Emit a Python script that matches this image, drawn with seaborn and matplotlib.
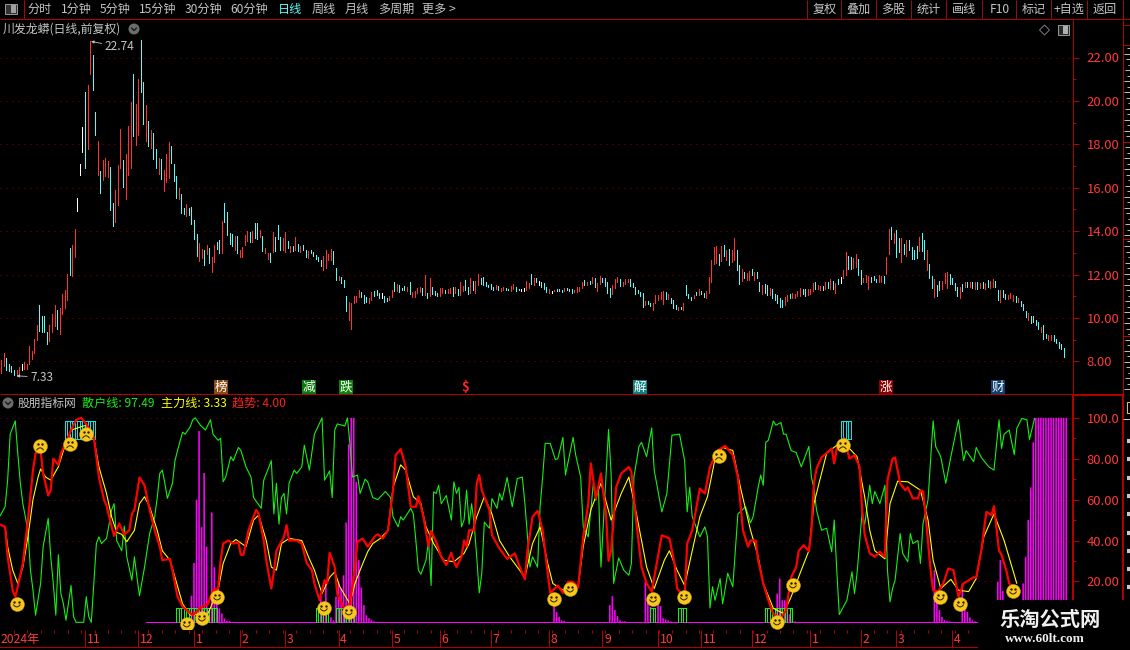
import numpy as np
import pandas as pd
import matplotlib
matplotlib.use('Agg')
import matplotlib.pyplot as plt
from matplotlib.patches import Rectangle, Circle, RegularPolygon
import seaborn as sns

# daily bars, low -> high, one per trading day
bar_high = [
    8.06,8.38,8.15,7.87,7.78,7.60,7.60,7.73,7.87,7.96,7.87,8.70,8.47,9.03,9.67,10.59,10.08,10.08,9.35,9.67,
    10.18,10.59,10.36,10.45,11.10,11.28,12.02,13.22,13.36,14.09,15.53,17.10,18.80,20.41,20.73,22.74,22.12,19.49,18.15,16.77,
    17.28,17.37,17.23,16.95,15.30,15.89,17.05,18.70,17.28,17.55,18.84,19.95,21.24,19.86,21.01,22.81,20.87,19.81,19.07,18.66,
    18.52,17.78,17.37,17.32,16.82,17.55,18.11,17.92,17.09,16.54,15.99,15.71,15.07,15.25,15.07,15.11,14.51,13.86,13.45,13.17,
    13.13,13.36,13.22,12.80,13.36,13.50,13.59,14.46,15.29,14.88,13.91,13.86,13.77,13.77,13.13,13.26,13.82,14.00,13.96,14.00,
    14.37,14.37,14.05,13.77,13.22,12.99,12.99,13.96,13.72,14.28,13.72,13.68,13.96,13.54,13.31,13.31,13.72,13.40,13.31,13.36,
    13.13,13.08,13.13,13.03,12.90,12.80,12.67,12.85,13.13,12.94,13.17,13.08,12.30,11.93,11.88,11.74,11.01,10.73,10.68,11.01,
    11.01,11.28,11.19,11.05,10.96,10.91,11.19,11.24,11.28,11.14,
    11.15,11.01,10.92,11.01,11.28,11.65,11.56,11.51,11.38,11.47,11.42,11.65,11.19,11.24,11.38,11.42,11.38,11.97,11.15,11.84,
    11.42,11.24,11.15,11.38,11.38,11.28,11.33,11.38,11.42,11.42,11.33,11.65,11.47,11.74,11.42,11.84,11.70,11.70,12.02,11.84,
    11.88,11.65,11.51,11.56,11.42,11.51,11.47,11.38,11.42,11.38,11.33,11.47,11.56,11.42,11.33,11.33,11.38,11.70,11.61,12.02,
    11.84,11.84,11.70,11.65,11.61,11.42,11.33,11.24,11.28,11.33,11.33,11.28,11.38,11.38,11.33,11.33,11.28,11.42,11.42,11.65,
    11.74,11.65,11.70,11.88,11.84,11.61,11.93,11.84,11.84,11.65,11.38,11.51,11.79,11.88,11.79,11.65,11.79,11.79,11.79,11.61,
    11.42,11.28,11.19,11.15,10.78,10.78,10.68,10.68,11.05,11.05,11.19,11.24,11.19,11.10,10.92,10.82,10.59,10.50,10.50,10.68,
    11.51,11.10,10.96,11.05,11.19,11.33,11.24,11.15,11.24,11.88,12.67,13.27,13.31,12.94,13.31,13.36,13.13,13.17,13.13,13.68,
    13.13,12.44,12.25,12.11,12.07,12.16,
    12.25,12.11,12.11,11.65,11.51,11.56,11.51,11.38,11.33,11.10,11.05,10.92,10.82,10.96,11.05,11.10,11.15,11.10,11.24,11.38,
    11.33,11.33,11.33,11.33,11.61,11.65,11.51,11.47,11.47,11.65,11.65,11.79,11.70,11.61,11.79,11.88,12.20,13.03,12.85,12.80,
    12.76,12.94,12.71,12.20,11.84,11.97,11.93,11.88,11.93,11.79,11.97,11.93,11.93,12.80,14.09,14.19,13.91,14.05,13.68,13.68,
    13.40,13.59,13.59,13.27,13.13,13.31,13.73,13.91,13.59,13.13,12.48,11.93,11.79,11.51,11.70,11.70,12.07,12.11,12.02,11.84,
    11.61,11.42,11.42,11.56,11.65,11.65,11.65,11.65,11.65,11.65,11.61,11.65,11.61,11.74,11.70,11.79,11.70,11.28,11.28,11.28,
    11.10,11.05,11.15,11.05,11.01,10.92,10.78,10.64,10.32,10.22,10.09,10.09,9.90,9.81,9.58,9.67,9.26,9.21,9.21,9.21,
    9.03,8.89,8.80,8.61]
bar_low = [
    7.46,7.78,7.60,7.55,7.50,7.37,7.33,7.41,7.60,7.64,7.64,7.87,8.10,8.38,8.98,9.39,9.35,9.35,8.79,8.93,
    9.35,9.62,9.49,9.26,10.18,10.45,10.82,11.97,11.93,12.80,14.93,16.58,17.65,16.91,17.78,21.24,20.50,18.43,16.58,15.76,
    16.36,16.54,16.49,14.97,14.23,14.42,15.20,16.91,16.03,15.48,16.59,16.91,18.38,17.97,18.43,20.41,18.94,18.15,17.92,17.83,
    17.32,16.91,16.63,16.40,15.85,16.26,16.45,17.14,16.31,15.53,15.48,14.83,14.79,14.70,14.74,14.32,13.63,12.85,12.62,12.76,
    12.43,12.94,12.53,12.11,12.57,13.17,12.99,12.99,14.42,13.82,13.40,13.31,13.13,12.99,12.80,12.80,13.36,13.54,13.50,13.50,
    13.68,13.63,13.72,13.08,12.99,12.71,12.57,13.03,13.08,13.63,13.13,13.13,13.03,13.22,13.03,13.08,13.13,13.08,13.03,13.13,
    12.80,12.76,12.99,12.85,12.71,12.62,12.39,12.20,12.30,12.67,12.67,12.48,11.74,11.74,11.61,11.42,10.32,9.90,9.49,10.68,
    10.73,10.96,10.96,10.68,10.73,10.68,10.82,11.01,11.05,10.91,
    10.92,10.73,10.78,10.82,10.96,11.24,11.24,11.19,11.28,11.28,11.24,11.10,10.96,10.96,11.15,11.19,11.05,11.05,10.92,11.01,
    11.10,11.05,11.01,11.01,11.15,11.15,11.15,11.15,11.01,11.15,11.05,11.05,11.24,11.28,11.10,11.15,11.28,11.15,11.51,11.56,
    11.51,11.47,11.42,11.33,11.28,11.33,11.28,11.24,11.28,11.28,11.28,11.24,11.33,11.24,11.28,11.24,11.24,11.28,11.38,11.56,
    11.51,11.65,11.51,11.42,11.33,11.19,11.15,11.15,11.24,11.24,11.24,11.19,11.24,11.28,11.24,11.15,11.19,11.19,11.24,11.38,
    11.51,11.51,11.56,11.61,11.42,11.24,11.56,11.65,11.47,11.15,10.96,11.10,11.38,11.65,11.47,11.47,11.56,11.65,11.47,11.42,
    11.10,11.15,11.01,10.50,10.59,10.64,10.55,10.36,10.68,10.82,10.87,10.64,10.87,10.87,10.68,10.45,10.41,10.36,10.41,10.36,
    11.05,10.92,10.82,10.92,11.05,11.05,11.10,10.96,10.92,11.15,11.65,12.48,12.53,12.44,12.62,12.85,12.67,12.44,12.57,12.67,
    12.20,11.56,11.70,11.84,11.74,11.74,
    11.97,11.74,11.84,11.24,11.10,11.15,11.05,11.05,10.92,10.82,10.68,10.50,10.50,10.59,10.78,10.92,10.92,10.92,11.01,11.01,
    11.10,11.01,11.05,11.10,11.24,11.33,11.33,11.28,11.28,11.33,11.38,11.33,11.33,11.15,11.56,11.61,11.84,11.97,12.25,12.25,
    12.30,12.34,11.97,11.56,11.65,11.65,11.33,11.65,11.74,11.65,11.65,11.65,11.61,12.02,12.94,13.63,13.45,12.80,13.03,12.57,
    12.94,12.85,13.13,12.71,12.71,12.76,13.08,13.08,12.71,12.20,11.84,11.38,10.96,11.01,11.28,11.33,11.61,11.38,11.56,11.56,
    11.28,11.01,10.92,11.24,11.42,11.42,11.42,11.38,11.33,11.33,11.38,11.38,11.33,11.42,11.38,11.42,11.42,10.82,10.73,10.96,
    10.87,10.87,10.92,10.78,10.73,10.73,10.55,10.36,10.04,9.90,9.76,9.81,9.67,9.49,9.35,9.03,9.07,8.98,8.98,8.93,
    8.84,8.61,8.57,8.20]
# r up, c down, w flat
bar_dir = ''.join([
    'rrccccrrwr','rrrrrccccr','rrcrrrrcrr','wwwcrrccrc','rrrccrrrcr','rrcrrccrcr','ccrcrrrccc','rccrccccrr',
    'crcrrccrcc','ccrcrrrrcr','ccrcrrcrcc','crrcrcrcrc','crcccccrrr','rccrcccrrr','rrcccrrccc',
    'wccrrcrccc','rcrrrrcrcr','cccrrcrrcr','crrccrcrrc','cccccrcrrc','crrccwwrrc','rcwcccrwrc','ccrcccrrrr',
    'crcrcrrccc','crrrcrrrcc','ccccrccrrr','rrcrcccrcr','cccrcrccrr','rrrcrcrcrr','ccrcrr',
    'crccrccrcc','cccrrcrrrr','ccrrrcrrcr','crcrcwrrcc','rrccrrrccc','rrcrrcrccr','crccccrccr','ccrccrrrcc',
    'ccrcrcrcrc','rcrcrrccrc','crrrcrcccr','ccccrccrrc','cccc'])

price_ticks = [8, 10, 12, 14, 16, 18, 20, 22]
osc_ticks = [20, 40, 60, 80, 100]
osc_labels = ['20.00', '40.00', '60.00', '80.00', '100.0']

# month starts as bar numbers
month_bars = [-0.8, 33, 54, 76, 94, 112, 133, 154, 173, 193, 216, 237, 259, 276, 296, 319, 339, 353, 375]
month_names = ['2024年', '11', '12', '1', '2', '3', '4', '5', '6', '7', '8', '9', '10', '11', '12', '1', '2', '3', '4']

# (bar, value)
retail_line = [
    (0,52),(2,56.5),(3,69.5),(4,92),(6,98.5),(7,82.6),(8,68),(9,58),(11,45),(12,25.5),(13,15.7),(14,3.5),(16,19),(17,37),
    (19,50.8),(20,32),(21,19),(22,3.5),(23,33),(24,14),(25,9),(26,1),(28,18),(29,2.7),(30,0),(33,0),(34,12.5),(35,2.7),
    (36,0),(37,19),(38,38.5),(39,41.8),(40,38.5),(42,41),(44,55),(45,58),(46,40),(48,35),(49,47),(50,32),(52,20.6),(53,32),
    (54,22),(55,13),(57,27),(59,43.4),(61,51.6),(62,61),(63,72.8),(64,74.4),(65,68),(66,60.6),(68,68),(69,79),(70,84),(72,93),
    (73,92),(75,95.6),(76,99),(77,100),(79,96.4),(81,94),(83,99),(84,92),(86,89),(87,90),(88,68.7),(89,71),(91,81),(92,79),
    (94,85.5),(95,84),(97,76),(99,71),(100,61),(103,55.7),(104,69.5),(107,79),(108,53),(109,68),(110,48),(111,61),(112,63),
    (113,53),(114,68),(116,74.4),(117,72.8),(119,76),(120,86.6),(122,74.4),(124,92),(127,100),(128,69.5),(130,74),(131,61),
    (132,94),(133,97),(136,96),(137,100),(138,87.5),(139,71),(141,72),(142,63),(144,70),(145,68.7),(147,61),(149,60),
    (152,64),(154,61),(155,51.6),(157,46.7),(158,51.6),(159,50),(162,55.7),(163,53),(164,40),(165,25.5),(166,23.5),(168,30.4),
    (169,40),(170,18),(171,63.8),(172,63),(173,67),(174,58),(176,62),(178,50),(179,68.7),(180,63),(181,66),(182,46.7),(183,50),
    (184,64.6),(185,48),(186,58),(187,48),(188,32),(189,14.4),(190,24),(191,49),(193,46),(194,60.5),(196,55.7),(197,63),
    (198,59.7),(200,70.8),(202,56.5),(204,70.3),(206,71),(207,58),(209,27),(210,32),(212,27),(213,56.5),(214,71),(215,87.5),
    (217,87.5),(219,79.6),(220,80),(222,90.4),(223,72),(226,90.4),(227,82),(229,71),(230,46.7),(232,41.8),(234,68),(235,59.7),
    (236,66),(237,27),(240,94.3),(241,72.8),(242,19),(244,31.5),(246,25.5),(248,23),(249,28.8),(250,71),(252,86),(253,88),
    (255,81),(257,95),(258,74.4),(261,54),(263,63),(265,91.5),(268,92),(270,79),(271,54),(272,66),(273,51.6),(276,41.8),
    (278,46.7),(279,41.8),(280,7),(281,17.4),(282,10.8),(284,21.4),(285,9),(287,24),(289,17.4),(291,53),(294,56.5),
    (296,48.7),(297,51.6),(299,66),(300,72),(301,67),(302,88),(303,89),(305,98.5),(306,96.4),(308,97.7),(309,92),(310,92),
    (312,84),(314,83),(316,76),(319,86),(320,71),(321,65.4),(322,55),(324,45),(326,46),(328,34.5),(329,50),(330,25.5),(331,3.8),
    (334,10.8),(336,24.7),(337,14),(338,24),(340,54),(341,47.5),(343,67),(344,58),(345,64),(347,58),(349,67),(350,25.5),(351,10),
    (352,16.5),(353,20.6),(355,43.4),(356,33.7),(358,29.6),(359,43.4),(360,38.5),(362,40),(363,28.8),(364,48),(366,60),(368,98.5),
    (369,86),(371,81),(373,68),(375,81),(378,99),(380,79),(381,84),(384,78.5),(385,85.5),(387,80.6),(390,76),(392,74.4),(394,99),
    (395,85),(396,92),(398,94),(400,82),(401,94.8),(403,99.7),(405,99),(406,89.4),(408,99.7)]
main_line = [
    (0,47.8),(2,46.7),(3,32),(5,15.7),(6,12.5),(7,17.4),(9,28.8),(11,50),(13,74.4),(14,82.6),(16,84),(17,72.8),(19,62),(20,64.6),
    (21,80),(23,77),(24,82.6),(26,88),(28,94),(30,99),(32,100),(34,97),(37,90.7),(39,71),(41,60),(42,57),(44,46.7),(45,42.3),
    (47,48.3),(49,43),(51,45),(52,53),(53,55),(55,70.8),(57,67),(59,55),(61,45),(63,37),(64,30.4),(67,31),(68,25.5),(70,12.5),
    (72,7.6),(76,3.5),(79,7),(82,9),(84,15.7),(86,16.5),(87,30.4),(88,38.5),(90,40),(92,38.5),(94,39),(95,33),(96,33),(98,45),
    (101,55),(102,53),(104,40),(105,30.4),(107,16.5),(108,24.7),(109,35),(112,41.8),(113,47.5),(114,40),(117,40),(119,38.5),
    (121,28.8),(123,25.5),(124,19),(126,10.8),(128,20.6),(129,19),(130,34),(132,27),(133,14),(136,6),(138,9),(140,27),(141,39.4),
    (143,41),(145,37),(148,42.3),(149,43),
    (151,41),(153,45),(155,64.6),(156,81.7),(158,84.7),(160,76),(162,56.5),(164,56.5),(165,61.7),(167,51.6),(169,37),(170,44.7),
    (172,39.4),(174,32),(176,28),(178,34),(179,29.6),(180,27),(182,32),(183,40),(184,37),(185,45),(187,45),(188,68),(189,72),
    (190,64.6),(193,55),(194,42.7),(197,36),(200,31),(203,33.7),(205,27),(207,21),(208,35),(210,51.6),(212,54.5),(214,45),(216,24),
    (217,14.4),(220,18),(222,14.4),(224,19.8),(226,19.8),(228,17),(230,41.8),(232,58),(233,77.7),(235,60.6),(237,72.8),(239,53),
    (240,30),(241,35),(243,66),(245,72.8),(248,76),(249,73.6),(251,48.3),(253,27),(255,19),(257,15),(259,28.8),(261,42.6),(264,41),
    (266,28.8),(267,16.5),(270,12.5),(271,38.5),(273,45),(276,65.4),(278,63),(280,76),(283,84),(286,86.3),(289,81.7),(291,71),
    (293,45),(295,37),
    (296,40),(298,40),(299,30.4),(301,19),(303,10.8),(305,4),(308,2),(310,6),(312,22),(314,27),(315,35),(317,37.7),(319,34.8),
    (320,45),(321,68),(322,75),(324,80.6),(328,85),(329,77.7),(330,85),(333,90),(335,80),(337,81.7),(339,76),(340,55),(341,43),
    (343,33.7),(345,32),(347,34.5),(349,32),(350,69.5),(352,80),(353,80.6),(355,68),(357,64.6),(358,66),(360,60.6),(362,60.6),
    (363,64.6),(364,64),(365,53),(367,25.5),(368,15.7),(370,15),(372,19),(374,26.3),(376,25.5),(378,12.5),(380,19),(384,22),
    (385,22),(387,35),(389,54),(391,52.4),(392,56.8),(394,35),(395,33),(397,24.7),(398,19),(400,17)]
trend_line = [
    (2,46.7),(3,37),(5,25.5),(7,19),(9,27),(11,41.8),(13,60),(15,71),(16,75),(18,71),(20,69.5),(23,76),(25,84),(28,94),(34,96.4),
    (37,90),(39,76),(42,63),(44,51.6),(46,44),(48,43),(50,39.4),(53,45),(55,58),(57,61.4),(59,56.5),(62,45),(64,35),(67,30.4),
    (69,22),(72,9),(75,3.5),(82,4.3),(86,15.7),(88,28.8),(91,38.5),(93,40.5),(97,37),(100,50),(102,52.4),(105,40),(107,27),
    (109,25.5),(111,38.5),(114,41),(119,40),(122,31),(124,25.5),(127,14),(130,22),(132,24.7),(134,17.4),(138,9),(140,19),
    (142,25.5),(145,34.5),(147,38.5),(150,41),
    (153,45),(155,66),(158,77),(160,74.4),(163,61.4),(166,58),(168,46.7),(171,38.5),(175,30.4),(179,29.6),(183,33.7),(185,38.5),
    (188,51.6),(191,61.4),(194,53),(197,40),(201,32),(207,22),(210,38.5),(213,46.7),(216,28.8),(218,19),(222,15.7),(228,17.4),
    (230,37),(233,55),(237,68),(241,50),(245,63),(248,71),(251,53),(255,27),(258,16.5),(262,30.4),(264,35),(267,25.5),(270,18),
    (273,35),(276,51.6),(279,61.4),(282,80),(285,85.5),(289,84),(292,66),(296,45),
    (299,32),(301,19),(305,6.8),(309,4.3),(312,12.5),(316,25.5),(319,35),(321,58),(323,68),(326,82.6),(330,86.6),(335,85),
    (338,81),(341,61.4),(343,45),(345,35),(349,31),(351,58),(354,69),(358,68.7),(363,64.6),(366,50),(368,30.4),(371,16.5),
    (375,21),(378,15.7),(382,15),(385,21.4),(388,41.8),(392,53),(396,40),(401,19)]

# magenta histogram (bar, value)
hist_sticks = [
    (75,13),(76,29),(77,60),(78,93.5),(79,46.7),(80,73),(81,37),(83,53.7),(84,27),(85,15),(86,6.8),(87,4.3),(88,1.9),(89,0.7),(90,0.6),
    (126,12.8),(127,4.3),(128,20.6),(130,2.5),(131,1),
    (132,12.5),(133,20),(134,16.5),(135,23),(136,48.8),(137,87),(138,100),(139,100),(140,68.7),(141,30.4),(142,17),(143,8.4),(144,3.5),
    (145,2),(146,1),(147,0.5),
    (218,7.9),(219,5),(220,2.7),(221,1),(222,0.7),
    (240,8.4),(241,12.8),(242,6),(243,3),(244,1),(245,0.5),(246,0.5),
    (254,19.8),(255,10),(256,7.6),(259,12.5),(260,8),(261,2),(262,1.4),(263,1),(264,0.5),
    (306,14),(307,21.4),(308,10.8),(309,10.8),(310,7),(311,4),(312,1.5),(313,0.5),
    (368,25.5),(369,11),(370,6),(371,2.7),(372,1),(373,0.6),(374,0.5),
    (379,19),(380,9.2),(381,5),(382,2.4),(383,1),(384,0.5),
    (393,19.8),(394,30.4),(395,15.4),
    (402,10),(403,19),(404,32),(405,50),(406,66),(407,88),(408,100),(409,100),(410,100),(411,100),(412,100),(413,100),(414,100),
    (415,100),(416,100),(417,100),(418,100),(419,100),(420,100)]
hist_span = (57, 386)

# signal zones (first bar, last bar)
top_zones = [(25, 37), (331, 335)]
top_zone_range = (89.6, 98.4)
low_zones = [(69, 85), (124, 129), (132, 139), (256, 258), (267, 270), (301, 312)]
low_zone_top = 6.8

# (bar, value, happy)
faces = [
    (6.1,8.9,1),(15.3,86.1,0),(27.1,87.1,0),(33.4,92,0),(73.1,-0.9,1),(79.1,2,1),(85.1,12.3,1),(127.2,6.9,1),(137,5,1),(217.9,11.3,1),
    (224.3,16.2,1),(257,11.3,1),(269.2,12.3,1),(283,81.3,0),(305.9,0.1,1),(312.2,18.2,1),(331.9,86.6,0),(370.3,12.3,1),(378.2,8.9,1),(399,15.2,1)]

# bar, label, box colour
event_tags = [(86.5,'榜','#8B4A12'),(121.2,'减','#0B7A0B'),(136,'跌','#0B840B'),(252,'解','#0F8080'),(349,'涨','#8B0000'),(393,'财','#0F3F73')]

menu_left = [('分时',39.5),('1分钟',76),('5分钟',115),('15分钟',157.5),('30分钟',203.5),('60分钟',249.5),('日线',289.5),
             ('周线',323.5),('月线',357),('多周期',396),('更多 >',439)]
menu_right = [('复权',824.5),('叠加',858.5),('多股',893),('统计',928.5),('画线',964),('F10',999.5),('标记',1033.5),('+自选',1069.5),('返回',1105)]
menu_seps = [807, 841, 876, 911, 946, 982, 1016, 1051, 1087, 1123]

W, H = 1130, 650
BG = '#000000'
UP = '#FF3232'
DOWN = '#54FCFC'
SPINE = '#B40000'
GRID = '#8A0000'
AXTXT = '#FF3A3A'
GREY = '#C4C4C4'
MAG = '#FF00FF'
ONE_PX = 0.72
BAR_PX = (1063.7 - 1.3) / 419
X0 = -1.3 / BAR_PX
X1 = (1072.7 - 1.3) / BAR_PX

sns.set_theme(style='dark', rc={
    'figure.facecolor': BG, 'axes.facecolor': BG, 'savefig.facecolor': BG,
    'axes.edgecolor': SPINE, 'axes.linewidth': ONE_PX, 'grid.color': GRID, 'axes.grid': False})
plt.rcParams['font.family'] = ['Noto Sans CJK SC', 'DejaVu Sans']

fig = plt.figure(figsize=(W / 100, H / 100), dpi=100)


def pane(top, bottom):
    return fig.add_axes([0, 1 - bottom / H, 1072.7 / W, (bottom - top) / H])


def style_value_axis(ax, ticks, labels):
    ax.set_xlim(X0, X1)
    ax.set_xticks([])
    ax.spines['left'].set_visible(False)
    ax.spines['top'].set_visible(False)
    ax.spines['right'].set_visible(False)
    ax.spines['bottom'].set_linewidth(ONE_PX)
    ax.yaxis.tick_right()
    ax.set_yticks(ticks)
    ax.set_yticklabels(labels, color=AXTXT, fontsize=9.4)
    ax.tick_params(axis='y', which='major', length=4, width=ONE_PX, color=SPINE, pad=6, right=True, left=False)
    minor = [(a + b) / 2 for a, b in zip(ticks[:-1], ticks[1:])]
    ax.set_yticks(minor, minor=True)
    ax.tick_params(axis='y', which='minor', length=2, width=ONE_PX, color=SPINE, right=True, left=False)
    ax.grid(True, axis='y', which='major', color=GRID, lw=ONE_PX, ls=(0, (1, 5)))
    ax.set_axisbelow(True)
    ax.set_xlabel('')
    ax.set_ylabel('')


# price pane
price_ax = pane(20, 394.3)
price_ax.set_ylim(8 + (361.3 - 394.3) / 21.7, 8 + (361.3 - 20) / 21.7)
style_value_axis(price_ax, price_ticks, ['%.2f' % t for t in price_ticks])

bars = pd.DataFrame({'bar': np.arange(len(bar_high)), 'high': bar_high, 'low': bar_low, 'dir': list(bar_dir)})
bar_colors = {'r': UP, 'c': DOWN, 'w': '#FFFFFF'}
price_ax.vlines(bars['bar'], bars['low'], bars['high'], colors=bars['dir'].map(bar_colors).tolist(),
                lw=ONE_PX, antialiased=False)

price_ax.annotate('22.74', xy=(35.4, 22.74), xytext=(10, -4), textcoords='offset points', color=GREY, fontsize=8.6,
                  va='center', arrowprops=dict(arrowstyle='-|>', color=GREY, lw=0.6, mutation_scale=4, shrinkA=0, shrinkB=0))
price_ax.annotate('7.33', xy=(6, 7.33), xytext=(10, -1), textcoords='offset points', color=GREY, fontsize=8.6,
                  va='center', arrowprops=dict(arrowstyle='-|>', color=GREY, lw=0.6, mutation_scale=4, shrinkA=0, shrinkB=0))

tag_y = 8 + (361.3 - 387) / 21.7
for b, label, color in event_tags:
    price_ax.text(b, tag_y, label, color='#FFFFFF', fontsize=9, ha='center', va='center',
                  bbox=dict(boxstyle='square,pad=0.06', fc=color, ec=color, lw=0))
price_ax.text(183, tag_y, '$', color='#FF2020', fontsize=9.5, ha='center', va='center', fontweight='bold')

# indicator pane
osc_ax = pane(394.3, 630.3)
osc_ax.set_ylim((622.3 - 630.3) / 2.045, (622.3 - 394.3) / 2.045)
style_value_axis(osc_ax, osc_ticks, osc_labels)

hist = pd.DataFrame(hist_sticks, columns=['bar', 'value'])
hist_art = osc_ax.vlines(hist['bar'], 0, hist['value'], colors=MAG, lw=1.15, antialiased=True, zorder=2)
hist_art.set_snap(False)
osc_ax.hlines(0, hist_span[0], hist_span[1], colors=MAG, lw=ONE_PX, antialiased=False, zorder=2)

for first, last in top_zones:
    osc_ax.vlines(np.arange(first, last + 1), top_zone_range[0], top_zone_range[1], colors='#00E8E8', lw=ONE_PX,
                  antialiased=False, zorder=3)
    osc_ax.hlines(list(top_zone_range), first, last, colors='#00E8E8', lw=ONE_PX, antialiased=False, zorder=3)
for first, last in low_zones:
    osc_ax.vlines(np.arange(first, last + 1), 0, low_zone_top, colors='#14F014', lw=ONE_PX, antialiased=False, zorder=3)
    osc_ax.hlines(low_zone_top, first, last, colors='#14F014', lw=ONE_PX, antialiased=False, zorder=3)

for pts, color, width in [(retail_line, '#14F014', 0.8), (trend_line, '#FFFF00', 0.8), (main_line, '#FF0000', 1.6)]:
    line = pd.DataFrame(pts, columns=['bar', 'value'])
    line['bar'] = line['bar'] - 0.5
    sns.lineplot(data=line, x='bar', y='value', ax=osc_ax, color=color, lw=width, sort=False, estimator=None, errorbar=None, zorder=4)
osc_ax.set_xlabel('')
osc_ax.set_ylabel('')

face_df = pd.DataFrame(faces, columns=['bar', 'value', 'happy'])
sns.scatterplot(data=face_df, x='bar', y='value', ax=osc_ax, color='#F6C81E', edgecolor='#D9A814', linewidth=0.3, s=100,
                zorder=6, clip_on=False, legend=False)
eye_x = np.concatenate([face_df['bar'] - 2.4 / BAR_PX, face_df['bar'] + 2.4 / BAR_PX])
eye_y = np.concatenate([face_df['value'] + 2 / 2.045, face_df['value'] + 2 / 2.045])
sns.scatterplot(x=eye_x, y=eye_y, ax=osc_ax, color='#2A1A00', s=3, linewidth=0, zorder=7, clip_on=False, legend=False)
curve = np.linspace(-1, 1, 9)
for b, v, happy in faces:
    drop = (1 - curve ** 2) * (-2.2 if happy else 2.2)
    base = -0.6 if happy else -3.8
    osc_ax.plot(b + curve * 3.4 / BAR_PX, v + (base + drop) / 2.045, color='#2A1A00', lw=0.7, zorder=7, clip_on=False)
osc_ax.set_xlabel('')
osc_ax.set_ylabel('')

# date strip
time_ax = fig.add_axes([0, 1 - 646.7 / H, 978 / W, 16.4 / H])
time_ax.set_xlim(X0, X0 + 978 / BAR_PX)
time_ax.set_ylim(0, 1)
time_ax.set_yticks([])
time_ax.set_xticks([])
for side in ['left', 'right', 'top']:
    time_ax.spines[side].set_visible(False)
time_ax.spines['bottom'].set_linewidth(ONE_PX)
time_ax.vlines(month_bars[1:], 0, 1, colors=SPINE, lw=ONE_PX)
small = [b for b in np.arange(5, 386, 5.3)]
time_ax.vlines(small, 0.82, 1, colors=SPINE, lw=ONE_PX)
for b, name in zip(month_bars, month_names):
    time_ax.text(b + 0.7, 0.46, name, color=AXTXT, fontsize=8.8, ha='left', va='center')

# screen furniture, in pixels
ui = fig.add_axes([0, 0, 1, 1], zorder=20)
ui.set_xlim(0, W)
ui.set_ylim(H, 0)
ui.axis('off')
ui.patch.set_alpha(0)


def ui_text(x, y, s, color=GREY, size=8.7, ha='center', **kw):
    ui.text(x, y, s, color=color, fontsize=size, ha=ha, va='center', **kw)


ui.hlines(19.3, 0, W, colors=SPINE, lw=ONE_PX)
ui.hlines(394.3, 0, 1072, colors=SPINE, lw=ONE_PX)
ui.hlines(394.8, 1072, 1123, colors=SPINE, lw=1.4)
ui.vlines(23.5, 0, 19, colors=SPINE, lw=ONE_PX)
ui.vlines(menu_seps, 0, 19, colors='#8E1010', lw=ONE_PX)
ui.vlines(1072.7, 19, 394, colors=SPINE, lw=ONE_PX)
ui.vlines(1123.3, 19, 394, colors=SPINE, lw=ONE_PX)
ui.vlines([1072.7, 1123.3], 394, 600, colors=SPINE, lw=1.4)
ui.add_patch(Rectangle((5, 4), 12, 10, fc='#333333', ec='#9A9A9A', lw=0.7))
ui.add_patch(Rectangle((11, 5), 5, 8, fc='#A0A0A0', ec='none'))
for label, x in menu_left + menu_right:
    ui_text(x, 9.5, label, color='#54FCFC' if label == '日线' else GREY)

ui_text(3, 29.5, '川发龙蟒(日线,前复权)', ha='left', size=8.6)
ui.add_patch(Circle((134, 29), 5.5, fc='#6C6C6C', ec='none'))
ui.plot([131.5, 134, 136.5], [28, 30.5, 28], color='#101010', lw=0.9)
ui.add_patch(RegularPolygon((1044.5, 30), 4, radius=5, fc='none', ec='#7A7A7A', lw=0.7))
ui.add_patch(Rectangle((1057.5, 25), 11, 10, fc='#2A2A2A', ec='#9A9A9A', lw=0.7))
ui.add_patch(Rectangle((1063, 26), 5, 8, fc='#B0B0B0', ec='none'))

ui.add_patch(Circle((8, 403), 5.5, fc='#6C6C6C', ec='none'))
ui.plot([5.5, 8, 10.5], [402, 404.5, 402], color='#101010', lw=0.9)
ui_text(18, 403, '股朋指标网', ha='left', size=8.5)
ui_text(82, 403, '散户线: 97.49', color='#14F014', ha='left', size=8.7)
ui_text(161, 403, '主力线: 3.33', color='#FFFF00', ha='left', size=8.7)
ui_text(232, 403, '趋势: 4.00', color='#FF2020', ha='left', size=8.7)

# the clipped quote panel at the window edge only shows fragments of glyphs
frag_y = np.arange(48, 392, 5.5)
frag_len = np.resize([3, 6, 4, 2, 5, 3, 6], len(frag_y))
ui.hlines(frag_y, W - frag_len, W, colors='#B8B8B8', lw=ONE_PX)
ui.hlines([25, 45, 142, 239, 336], 1123, W, colors=SPINE, lw=ONE_PX)
ui.hlines(np.arange(441, 600, 18.3), 1127, W, colors='#C8C8C8', lw=3)
ui.add_patch(Rectangle((1127, 402), 4, 11, fc='none', ec='#E0D040', lw=0.7))
ui.hlines(419, 1123, W, colors='#C8C8C8', lw=ONE_PX)

# watermark
ui.add_patch(Rectangle((978, 600), W - 978, 50, fc=BG, ec='none'))
ui_text(1050.5, 619.5, '乐淘公式网', color='#F0F0F0', size=14.6, fontweight='bold')
ui.text(1045, 639, 'www.60lt.com', color='#F0F0F0', fontsize=9.5, ha='center', va='center', fontweight='bold',
        family=['Liberation Serif', 'DejaVu Serif'])

fig.savefig('out.png', dpi=100, facecolor=BG)
